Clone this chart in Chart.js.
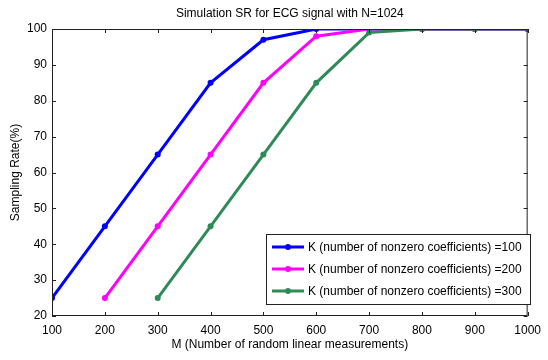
<!DOCTYPE html>
<html>
<head>
<meta charset="utf-8">
<script src="https://cdn.jsdelivr.net/npm/chart.js@4/dist/chart.umd.min.js"></script>
<style>
html,body{margin:0;padding:0;background:#fff;}
#wrap{position:relative;width:548px;height:360px;}
canvas{display:block;}
</style>
</head>
<body>
<div id="wrap"><canvas id="c" width="548" height="360"></canvas></div>
<script>
const titleText = "Simulation SR for ECG signal with N=1024";
const xLabel = "M (Number of random linear measurements)";
const yLabel = "Sampling Rate(%)";
const xTicks = [100,200,300,400,500,600,700,800,900,1000];
const yTicks = [20,30,40,50,60,70,80,90,100];

const mK100 = [100,200,300,400,500,600,700,800,900,1000];
const rK100 = [25,45,65,85,97,100,100,100,100,100];
const mK200 = [200,300,400,500,600,700,800,900,1000];
const rK200 = [25,45,65,85,98,100,100,100,100];
const mK300 = [300,400,500,600,700,800,900,1000];
const rK300 = [25,45,65,85,99,100,100,100];

const seriesLabels = [
  "K (number of nonzero coefficients) =100",
  "K (number of nonzero coefficients) =200",
  "K (number of nonzero coefficients) =300"
];
const colors = ["#0000ff", "#ff00ff", "#2e8b57"];

const FONT = "'Liberation Sans', Arial, sans-serif";
const pts = (xs, ys) => xs.map((x, i) => ({x: x, y: ys[i]}));

const decor = {
  id: 'decor',
  afterDraw(chart) {
    const ctx = chart.ctx;
    const a = chart.chartArea;
    const xs = chart.scales.x, ys = chart.scales.y;
    ctx.save();
    // frame
    ctx.strokeStyle = '#222';
    ctx.lineWidth = 1;
    ctx.strokeRect(a.left + 0.5, a.top + 0.5, a.right - a.left - 1, a.bottom - a.top - 1);
    // inside ticks
    const tl = 4;
    ctx.beginPath();
    xTicks.forEach(v => {
      const px = Math.round(xs.getPixelForValue(v)) + 0.5;
      ctx.moveTo(px, a.bottom); ctx.lineTo(px, a.bottom - tl);
      ctx.moveTo(px, a.top); ctx.lineTo(px, a.top + tl);
    });
    yTicks.forEach(v => {
      const py = Math.round(ys.getPixelForValue(v)) + 0.5;
      ctx.moveTo(a.left, py); ctx.lineTo(a.left + tl, py);
      ctx.moveTo(a.right, py); ctx.lineTo(a.right - tl, py);
    });
    ctx.stroke();
    // title & axis labels
    ctx.fillStyle = '#000';
    ctx.font = '12px ' + FONT;
    ctx.textAlign = 'center';
    ctx.textBaseline = 'middle';
    const cx = (a.left + a.right) / 2;
    ctx.fillText(titleText, cx, 14);
    ctx.fillText(xLabel, cx, 345);
    ctx.save();
    ctx.translate(16, (a.top + a.bottom) / 2);
    ctx.rotate(-Math.PI / 2);
    ctx.fillText(yLabel, 0, 0);
    ctx.restore();
    // legend
    const lx = 266, ly = 234, lw = 264, lh = 70;
    ctx.fillStyle = '#fff';
    ctx.fillRect(lx, ly, lw, lh);
    ctx.strokeStyle = '#222';
    ctx.strokeRect(lx + 0.5, ly + 0.5, lw, lh);
    const rows = [247, 269, 291];
    rows.forEach((ry, i) => {
      ctx.strokeStyle = colors[i];
      ctx.lineWidth = 3;
      ctx.beginPath();
      ctx.moveTo(272, ry); ctx.lineTo(304, ry);
      ctx.stroke();
      ctx.fillStyle = colors[i];
      ctx.beginPath();
      ctx.arc(288, ry, 3, 0, Math.PI * 2);
      ctx.fill();
      ctx.fillStyle = '#000';
      ctx.textAlign = 'left';
      ctx.fillText(seriesLabels[i], 308, ry + 1);
    });
    ctx.restore();
  }
};

new Chart(document.getElementById('c'), {
  type: 'line',
  data: {
    datasets: [
      {label: seriesLabels[0], data: pts(mK100, rK100), borderColor: colors[0], backgroundColor: colors[0], order: 2},
      {label: seriesLabels[1], data: pts(mK200, rK200), borderColor: colors[1], backgroundColor: colors[1], order: 1},
      {label: seriesLabels[2], data: pts(mK300, rK300), borderColor: colors[2], backgroundColor: colors[2], order: 0}
    ]
  },
  options: {
    responsive: false,
    animation: false,
    devicePixelRatio: 1,
    layout: {padding: {top: 29, right: 11, left: 0, bottom: 0}},
    elements: {
      line: {borderWidth: 3, tension: 0},
      point: {radius: 3, hoverRadius: 3, pointStyle: 'circle', borderWidth: 0}
    },
    plugins: {legend: {display: false}, title: {display: false}, tooltip: {enabled: false}},
    scales: {
      x: {
        type: 'linear', min: 100, max: 1000,
        afterFit(s) { s.height = 44; },
        afterBuildTicks(s) { s.ticks = xTicks.map(v => ({value: v})); },
        grid: {display: false, drawTicks: false},
        border: {display: false},
        ticks: {color: '#000', font: {family: FONT, size: 12}, padding: 7, maxRotation: 0, autoSkip: false,
                callback: v => String(v)}
      },
      y: {
        type: 'linear', min: 20, max: 100,
        afterFit(s) { s.width = 52; },
        afterBuildTicks(s) { s.ticks = yTicks.map(v => ({value: v})); },
        grid: {display: false, drawTicks: false},
        border: {display: false},
        ticks: {color: '#000', font: {family: FONT, size: 12}, padding: 5, autoSkip: false,
                callback: v => String(v)}
      }
    }
  },
  plugins: [decor]
});
</script>
</body>
</html>
